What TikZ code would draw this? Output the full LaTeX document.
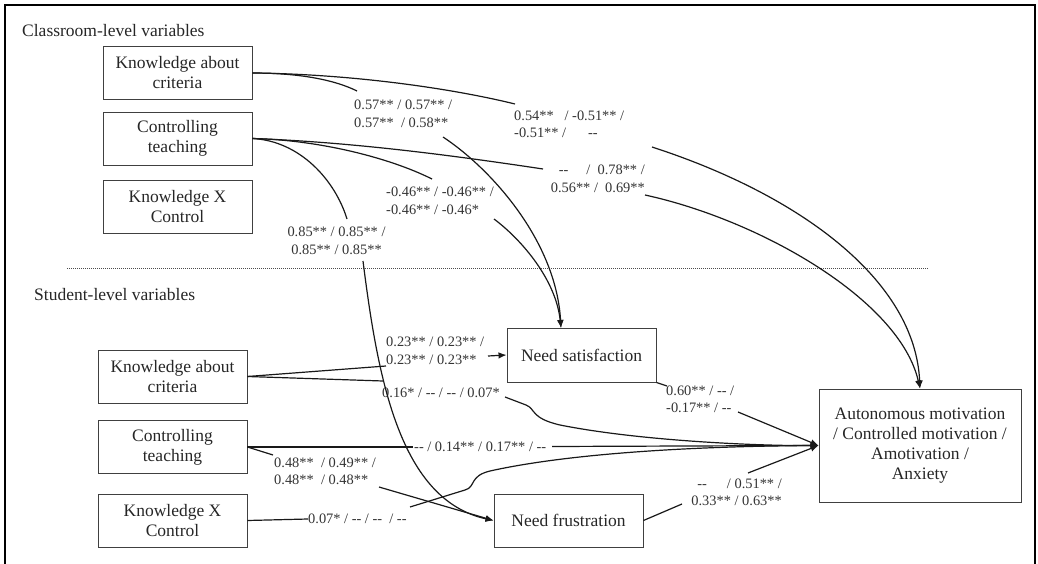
\documentclass[tikz,border=0pt]{standalone}
\usepackage{fontspec}
\setmainfont{Liberation Serif}
\usetikzlibrary{arrows.meta,calc}
\newcommand{\dd}{-{}-}
\newcommand{\bigfnt}{\fontsize{17.5}{20}\selectfont}
\newcommand{\labfnt}{\fontsize{14.4}{17.5}\selectfont}
\begin{document}
\begin{tikzpicture}[x=1pt,y=-1pt,
  box/.style={draw=black!75, line width=0.9pt, minimum width=149pt, minimum height=53pt, align=center, inner sep=0pt, font=\bigfnt, text=black!85},
  lab/.style={inner sep=0pt, font=\labfnt, text=black!80},
  head/.style={inner sep=0pt, font=\bigfnt, text=black!85, anchor=west},
  conn/.style={line width=1.2pt, black!90},
  arr/.style={conn, -{Latex[length=8pt,width=6.5pt]}},
  sep/.style={line width=0.8pt, black!70, dash pattern=on 1pt off 1pt}
]
\useasboundingbox (0,0) rectangle (1038,564);
\draw[line width=2.5pt] (5,566) -- (5,5) -- (1035,5) -- (1035,566);

% headings
\node[head] (hc) at (22,31) {Classroom-level variables};
\node[head] (hs) at (34,295) {Student-level variables};
\coordinate (dl) at (67,268);
\coordinate (dr) at (928,268);
\draw[sep] (dl) -- (dr);

% boxes
\node[box] (kac1) at (177.5,73) {Knowledge about\\criteria};
\node[box] (ct1) at (177.5,138.5) {Controlling\\teaching};
\node[box] (kxc1) at (177.5,207) {Knowledge X\\Control};
\node[box] (kac2) at (172.5,376.5) {Knowledge about\\criteria};
\node[box] (ct2) at (172.5,447) {Controlling\\teaching};
\node[box] (kxc2) at (172.5,520.5) {Knowledge X\\Control};
\node[box, minimum height=54pt] (ns) at (581.5,355) {Need satisfaction};
\node[box] (nf) at (568.5,520.5) {Need frustration};
\node[box, minimum width=202pt, minimum height=113pt] (out) at (920,445.5) {Autonomous motivation\\/ Controlled motivation /\\Amotivation /\\Anxiety};

% labels
\node[lab, anchor=west, align=left] (l1) at (514,124.5) {0.54**\ \ \ / -0.51** /\\-0.51** /\hspace{22pt}\dd};
\node[lab, anchor=east, align=right] (l2) at (645,179) {\dd\hspace{18pt}/\ \ 0.78** /\\0.56** /\ \ 0.69**};
\node[lab, anchor=west, align=left] (l3) at (354,114) {0.57** / 0.57** /\\0.57**\ \ / 0.58**};
\node[lab, anchor=west, align=left] (l4) at (386,201) {-0.46** / -0.46** /\\-0.46** / -0.46*};
\node[lab, anchor=center, align=center] (l5) at (336.5,241) {0.85** / 0.85** /\\0.85** / 0.85**};
\node[lab, anchor=west, align=left] (l6) at (386,351) {0.23** / 0.23** /\\0.23** / 0.23**};
\node[lab, anchor=west] (l7) at (382,393) {0.16* / \dd{} / \dd{} / 0.07*};
\node[lab, anchor=west] (l8) at (414,447) {\dd{} / 0.14** / 0.17** / \dd};
\node[lab, anchor=west, align=left] (l9) at (274,471.5) {0.48**\ \ / 0.49** /\\0.48**\ \ / 0.48**};
\node[lab, anchor=west] (l10) at (308,519) {0.07* / \dd{} / \dd{}\ \ / \dd};
\node[lab, anchor=west, align=left] (l11) at (666,399.5) {0.60** / \dd{} /\\-0.17** / \dd};
\node[lab, anchor=east, align=right] (l12) at (782,492.5) {\dd\hspace{20pt}/ 0.51** /\\0.33** / 0.63**};

% connector waypoints
\coordinate (c1a) at (515,104);  \coordinate (c1b) at (652,147);
\coordinate (c2a) at (543,169);  \coordinate (c2b) at (645,195);
\coordinate (c3a) at (357,91);   \coordinate (c3b) at (443,137);
\coordinate (c4a) at (432,179);  \coordinate (c4b) at (494,219);
\coordinate (c5a) at (347,219);  \coordinate (c5b) at (363,261);
\coordinate (nsin) at (561,328);
\coordinate (s1a) at (386,366);  \coordinate (s1b) at (488,356);
\coordinate (s2a) at (383,381);  \coordinate (s2b) at (505,397);
\coordinate (s3a) at (413,447);  \coordinate (s3b) at (552,446.5);
\coordinate (s4a) at (273,455);  \coordinate (s4b) at (379,487);
\coordinate (s5a) at (308,519);  \coordinate (s5b) at (410,507);
\coordinate (s6a) at (667,386);  \coordinate (s6b) at (738,412);
\coordinate (s7a) at (682,504);  \coordinate (s7b) at (748,473);

% classroom-level paths
\draw[conn] (kac1.east) .. controls (350,74) and (450,88) .. (c1a);
\draw[arr] (c1b) .. controls (800,195) and (915,280) .. (out.north);
\draw[conn] (ct1.east) .. controls (350,142) and (450,155) .. (c2a);
\draw[arr] (c2b) .. controls (760,220) and (900,300) .. (out.north);
\draw[conn] (kac1.east) .. controls (300,73) and (335,80) .. (c3a);
\draw[arr] (c3b) .. controls (490,168) and (556,240) .. (nsin);
\draw[conn] (ct1.east) .. controls (320,140) and (390,158) .. (c4a);
\draw[arr] (c4b) .. controls (522,240) and (556,280) .. (nsin);
\draw[conn] (ct1.east) .. controls (300,141) and (335,180) .. (c5a);
\draw[arr] (c5b) .. controls (378,380) and (400,500) .. (nf.west);

% student-level paths
\draw[conn] (kac2.east) -- (s1a);
\draw[arr] (s1b) -- (ns.west);
\draw[conn] (kac2.east) -- (s2a);
\draw[arr] (s2b) -- (526,405) .. controls (536,409) and (530,418) .. (560,425) .. controls (640,441) and (760,446) .. (out.west);
\draw[conn] (ct2.east) -- (s3a);
\draw[arr] (s3b) -- (out.west);
\draw[conn] (ct2.east) -- (s4a);
\draw[arr] (s4b) -- (nf.west);
\draw[conn] (kxc2.east) -- (s5a);
\draw[arr] (s5b) -- (465,490) .. controls (476,487) and (469,476) .. (490,471) .. controls (580,451) and (720,446) .. (out.west);
\draw[conn] (ns.south east) -- (s6a);
\draw[arr] (s6b) -- (out.west);
\draw[conn] (nf.east) -- (s7a);
\draw[arr] (s7b) -- (out.west);
\end{tikzpicture}
\end{document}
